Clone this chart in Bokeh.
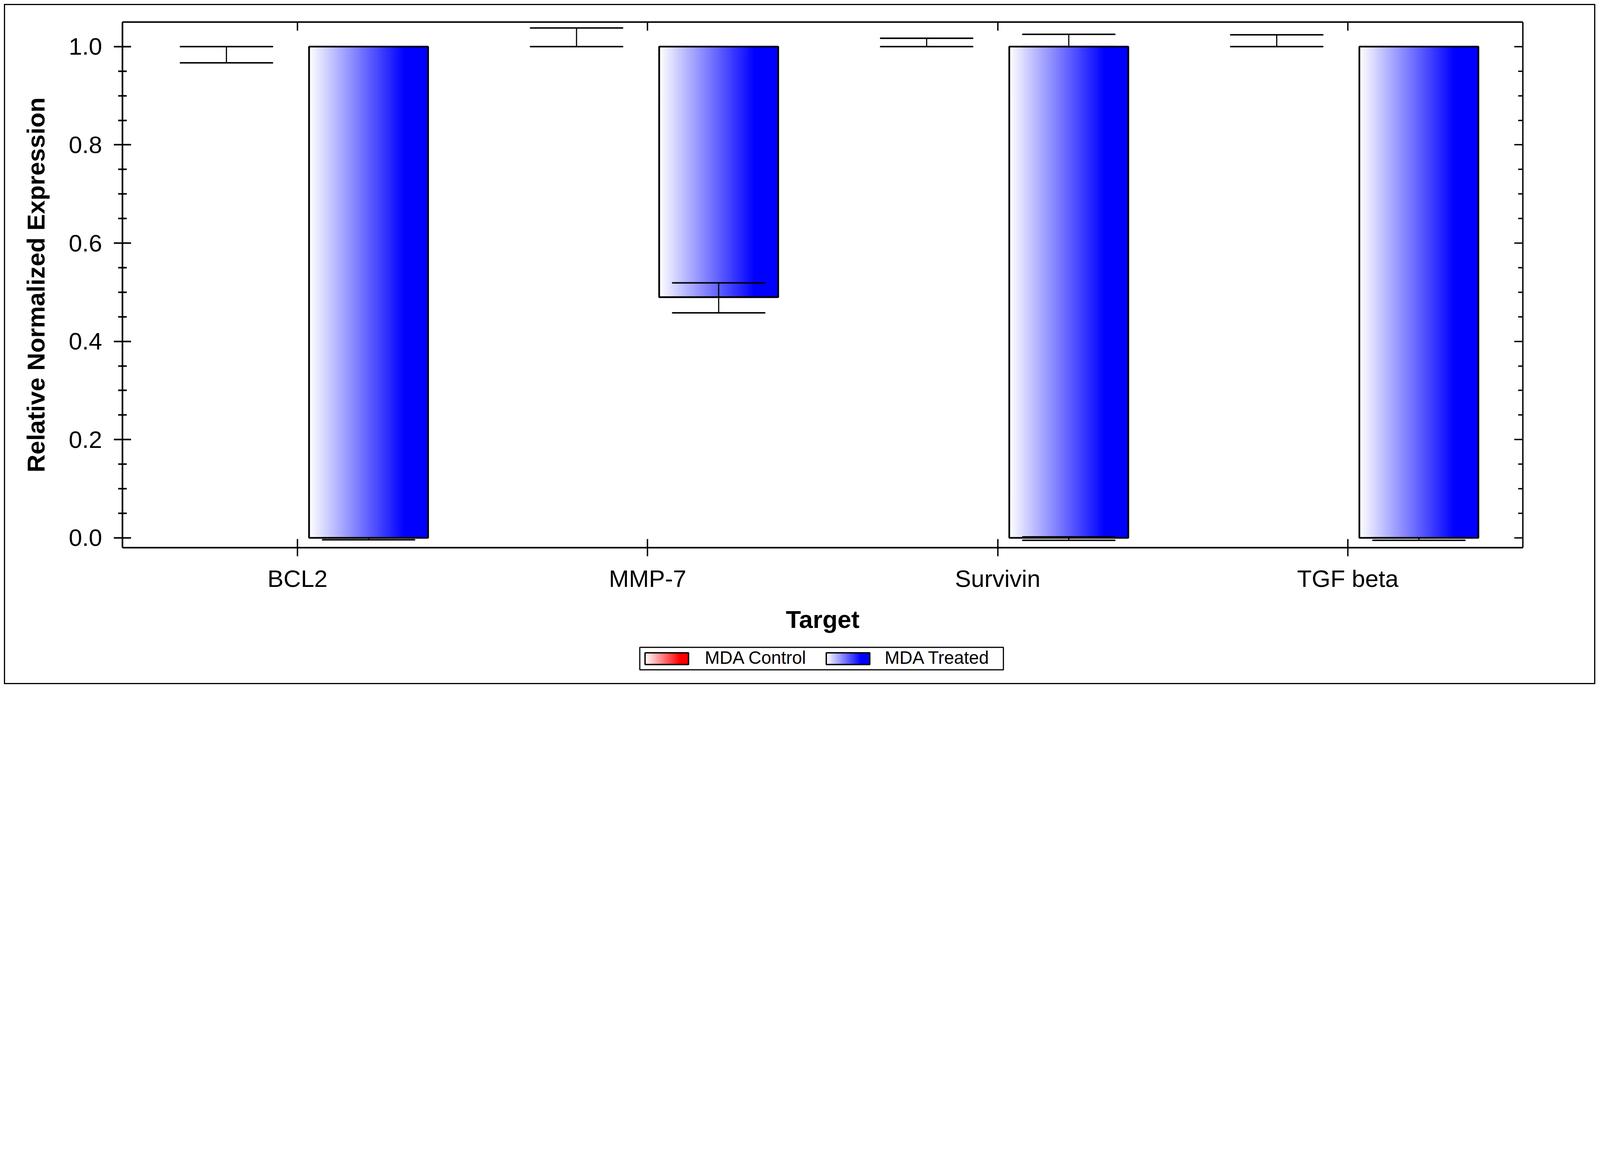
import numpy as np
from bokeh.plotting import figure
from bokeh.layouts import column
from bokeh.models import (FactorRange, Range1d, LinearAxis, CategoricalAxis, FixedTicker,
                          ColumnDataSource, NumeralTickFormatter)
from bokeh.core.properties import value
from bokeh.embed import file_html
from bokeh.resources import INLINE

# ---------------- data ----------------
targets = ["BCL2", "MMP-7", "Survivin", "TGF beta"]
series_names = ["MDA Control", "MDA Treated"]
baseline = 1.0
control_values = [1.0, 1.0, 1.0, 1.0]
treated_values = [0.0, 0.49, 0.0, 0.0]

err_targets = ["BCL2", "MMP-7", "Survivin", "TGF beta",
               "BCL2", "MMP-7", "Survivin", "Survivin", "TGF beta"]
err_series = ["MDA Control"] * 4 + ["MDA Treated"] * 5
err_lower = [0.967, 1.0, 1.0, 1.0, -0.004, 0.458, -0.005, 1.0, -0.005]
err_upper = [1.0, 1.038, 1.017, 1.024, 0.0, 0.519, 0.002, 1.025, 0.0]

y_major_ticks = [0.0, 0.2, 0.4, 0.6, 0.8, 1.0]
y_minor_ticks = [0.05, 0.1, 0.15, 0.25, 0.3, 0.35, 0.45, 0.5, 0.55,
                 0.65, 0.7, 0.75, 0.85, 0.9, 0.95]
y_start, y_end = -0.02, 1.05
x_label = "Target"
y_label = "Relative Normalized Expression"

# ---------------- style / layout ----------------
# reference pixel geometry is scaled by K to fit the photographed window width
K = 4096 / 6992


def R(v):
    return v * K


FONT = "Liberation Sans"
O = 13                      # page px of the canvas origin (10 margin + 3 border)
WC, HC = 4068, 1736         # content size inside the outer border
HM = 1630                   # main figure height
HL = HC - HM                # legend strip height
FL = round(R(535) - O)
FR = round(R(6654) - O)
FT = round(R(96) - O)
FB = round(R(2393) - O)

BAR_W = 0.34
CAP_W = 0.263
OFFSET = {"MDA Control": -0.203, "MDA Treated": 0.203}
END_RGB = {"MDA Control": (255, 0, 0), "MDA Treated": (0, 0, 255)}
RAMP = 0.8


def gradient_rgba(rgb, n=256, ramp=RAMP):
    t = np.clip(np.linspace(0.0, 1.0, n) / ramp, 0.0, 1.0)
    img = np.empty((1, n), dtype=np.uint32)
    v = img.view(dtype=np.uint8).reshape((1, n, 4))
    for k in range(3):
        v[0, :, k] = np.round(255 + (rgb[k] - 255) * t).astype(np.uint8)
    v[0, :, 3] = 255
    return img


p = figure(x_range=FactorRange(*targets, range_padding=0),
           y_range=Range1d(y_start, y_end),
           width=WC, height=HM, output_backend="svg", toolbar_location=None,
           x_axis_location=None, y_axis_location=None,
           min_border_left=FL, min_border_right=WC - FR,
           min_border_top=FT, min_border_bottom=HM - FB)
p.outline_line_color = None
p.background_fill_color = "white"
p.border_fill_color = "white"
p.xgrid.grid_line_color = None
p.ygrid.grid_line_color = None

# ---------------- bars ----------------
bars = dict(cx=[], x0=[], y0=[], dw=[], dh=[], top=[], bottom=[], image=[], line_alpha=[])
for s, vals in zip(series_names, [control_values, treated_values]):
    for i, v in enumerate(vals):
        cx = i + 0.5 + OFFSET[s]
        lo, hi = min(v, baseline), max(v, baseline)
        bars["cx"].append(cx)
        bars["x0"].append(cx - BAR_W / 2)
        bars["y0"].append(lo)
        bars["dw"].append(BAR_W)
        bars["dh"].append(hi - lo)
        bars["top"].append(hi)
        bars["bottom"].append(lo)
        bars["image"].append(gradient_rgba(END_RGB[s]))
        bars["line_alpha"].append(1.0 if hi > lo else 0.0)
bsrc = ColumnDataSource(bars)
p.image_rgba(image="image", x="x0", y="y0", dw="dw", dh="dh", source=bsrc)
p.vbar(x="cx", width=BAR_W, bottom="bottom", top="top", source=bsrc,
       fill_color=None, line_color="black", line_width=R(7.5), line_alpha="line_alpha")

# ---------------- error bars ----------------
ex = [targets.index(t) + 0.5 + OFFSET[s] for t, s in zip(err_targets, err_series)]
esrc = ColumnDataSource(dict(x=ex, xl=[x - CAP_W / 2 for x in ex], xr=[x + CAP_W / 2 for x in ex],
                             lo=err_lower, hi=err_upper))
p.segment(x0="x", y0="lo", x1="x", y1="hi", source=esrc, line_color="black", line_width=R(5))
p.segment(x0="xl", y0="lo", x1="xr", y1="lo", source=esrc, line_color="black",
          line_width=R(6.5), line_cap="round")
p.segment(x0="xl", y0="hi", x1="xr", y1="hi", source=esrc, line_color="black",
          line_width=R(6.5), line_cap="round")

# ---------------- axes ----------------
yax = LinearAxis(ticker=FixedTicker(ticks=y_major_ticks, minor_ticks=y_minor_ticks),
                 formatter=NumeralTickFormatter(format="0.0"),
                 axis_label=y_label,
                 axis_line_width=R(7), axis_line_color="black",
                 major_tick_line_width=R(7), minor_tick_line_width=R(7),
                 major_tick_line_color="black", minor_tick_line_color="black",
                 major_tick_in=round(R(37)), major_tick_out=round(R(38)),
                 minor_tick_in=round(R(19)), minor_tick_out=round(R(18)),
                 major_label_text_font=FONT, major_label_text_font_size="%.1fpx" % R(105),
                 major_label_text_color="black", major_label_standoff=round(R(51)),
                 axis_label_text_font=FONT, axis_label_text_font_style="bold",
                 axis_label_text_font_size="%.1fpx" % R(108), axis_label_text_color="black",
                 axis_label_standoff=round(R(78)))
p.add_layout(yax, "left")

rax = LinearAxis(ticker=FixedTicker(ticks=y_major_ticks, minor_ticks=y_minor_ticks),
                 axis_line_width=R(6), axis_line_color="black",
                 major_tick_line_width=R(6), minor_tick_line_width=R(6),
                 major_tick_in=round(R(38)), major_tick_out=0,
                 minor_tick_in=round(R(20)), minor_tick_out=0,
                 major_label_text_font_size="0px", major_label_text_color=None)
p.add_layout(rax, "right")

xax = CategoricalAxis(axis_label=x_label,
                      axis_line_width=R(7), axis_line_color="black",
                      major_tick_line_width=R(6), major_tick_line_color="black",
                      major_tick_in=round(R(38)), major_tick_out=round(R(38)),
                      minor_tick_line_color=None,
                      major_label_text_font=FONT, major_label_text_font_size="%.1fpx" % R(105),
                      major_label_text_color="black", major_label_standoff=round(R(37)),
                      axis_label_text_font=FONT, axis_label_text_font_style="bold",
                      axis_label_text_font_size="%.1fpx" % R(108), axis_label_text_color="black",
                      axis_label_standoff=round(R(54)))
p.add_layout(xax, "below")

tax = CategoricalAxis(axis_line_width=R(7), axis_line_color="black",
                      major_tick_line_width=R(6), major_tick_line_color="black",
                      major_tick_in=round(R(37)), major_tick_out=0, minor_tick_line_color=None,
                      major_label_text_font_size="0px", major_label_text_color=None)
p.add_layout(tax, "above")

# ---------------- legend strip ----------------
# its frame is kept at the same horizontal span as the main frame; data x = canvas px
q = figure(x_range=Range1d(FL, FR), y_range=Range1d(0, HL), width=WC, height=HL,
           output_backend="svg", toolbar_location=None,
           x_axis_location=None, y_axis_location=None,
           min_border_left=FL, min_border_right=WC - FR, min_border_top=0, min_border_bottom=0)
q.outline_line_color = None
q.background_fill_color = "white"
q.border_fill_color = "white"
q.xgrid.grid_line_color = None
q.ygrid.grid_line_color = None


def lx(ref_px):
    return R(ref_px) - O


def ly(ref_px):
    return HL - (R(ref_px) - O - HM)


LEG_BOX = (2795, 4384, 2829, 2927)           # reference px: left, right, top, bottom
SW_LEFT = [2818, 3610]
SW_W = 190
SW_TOP, SW_BOT = 2853, 2904
TXT_X = [3079, 3865]
TXT_MID = 2874

q.quad(left=[lx(LEG_BOX[0])], right=[lx(LEG_BOX[1])], top=[ly(LEG_BOX[2])], bottom=[ly(LEG_BOX[3])],
       fill_color="white", line_color="black", line_width=R(5))
q.image_rgba(image=[gradient_rgba(END_RGB[s]) for s in series_names],
             x=[lx(a) for a in SW_LEFT], y=[ly(SW_BOT)] * 2,
             dw=[R(SW_W)] * 2, dh=[ly(SW_TOP) - ly(SW_BOT)] * 2)
q.quad(left=[lx(a) for a in SW_LEFT], right=[lx(a + SW_W) for a in SW_LEFT],
       top=[ly(SW_TOP)] * 2, bottom=[ly(SW_BOT)] * 2,
       fill_color=None, line_color="black", line_width=R(6))
q.text(x=[lx(a) for a in TXT_X], y=[ly(TXT_MID)] * 2, text=series_names,
       text_font=value(FONT), text_font_size=value("%.1fpx" % R(78)),
       text_color="black", text_align="left", text_baseline="middle")

layout = column(p, q, spacing=0,
                styles={"border": "3px solid black", "margin": "10px", "background": "white"})

open("out.html", "w").write(file_html(layout, INLINE))
